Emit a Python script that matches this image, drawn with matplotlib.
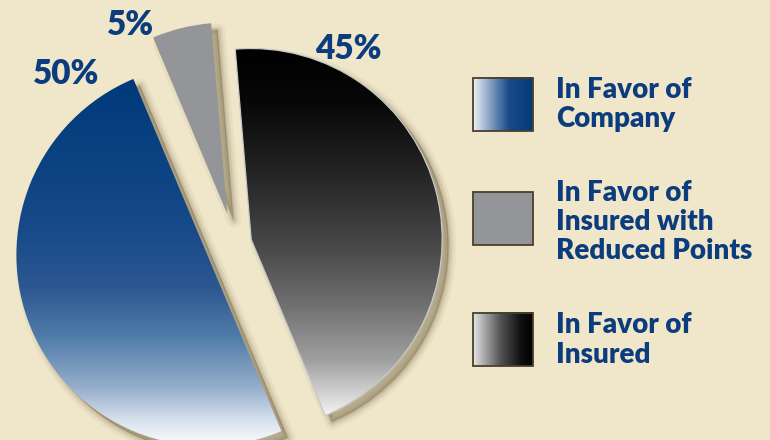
import numpy as np
import matplotlib.pyplot as plt
from matplotlib.colors import LinearSegmentedColormap
from matplotlib.patches import PathPatch, Rectangle
from matplotlib.transforms import offset_copy

# data
labels = ["In Favor of\nCompany",
          "In Favor of\nInsured with\nReduced Points",
          "In Favor of\nInsured"]
shares = [50, 5, 45]
pct_labels = ["50%", "5%", "45%"]

# look
bg = "#f0e6c9"
navy = "#0b3d7e"
shadow = "#4e3f1e"
font = "Lato"
weight = "heavy"

blue_cmap = LinearSegmentedColormap.from_list("blue", [
    (0.00, "#ffffff"), (0.07, "#d5e0ec"), (0.16, "#94adcb"), (0.30, "#4f7aa9"),
    (0.43, "#2c5892"), (0.57, "#1a4b8a"), (0.75, "#0c4383"), (1.00, "#003a7a")])
black_cmap = LinearSegmentedColormap.from_list("black", [
    (0.00, "#f4f4f4"), (0.05, "#d8d8d8"), (0.15, "#a0a0a0"), (0.30, "#707070"),
    (0.45, "#4a4a4a"), (0.65, "#262626"), (0.85, "#080808"), (1.00, "#000000")])
gray = "#939598"
fills = [blue_cmap, gray, black_cmap]

fig = plt.figure(figsize=(7.7, 4.4), dpi=100, facecolor=bg)
ax = fig.add_axes([0, 0, 1, 1])
ax.set_facecolor(bg)

wedges, _ = ax.pie(shares, startangle=292.8, counterclock=False,
                   explode=[0.154, 0.162, 0.09], radius=1.0,
                   wedgeprops=dict(linewidth=0))

grad = np.linspace(0, 1, 256).reshape(-1, 1)
for w, fill in zip(wedges, fills):
    path = w.get_path()
    # soft drop shadow, down and to the right
    for off, lw, a in [(7, 10, 0.05), (7, 6, 0.08), (7, 3, 0.10), (6, 0.5, 0.14)]:
        tr = offset_copy(ax.transData, fig=fig, x=off, y=-off, units="dots")
        ax.add_patch(PathPatch(path, transform=tr, facecolor=shadow, edgecolor=shadow,
                               lw=lw, alpha=a, zorder=1, joinstyle="round"))
    w.set_zorder(3)
    if isinstance(fill, str):
        w.set_facecolor(fill)
    else:
        w.set_facecolor("none")
        ext = path.get_extents()
        im = ax.imshow(grad, cmap=fill, origin="lower", aspect="auto",
                       extent=[ext.x0, ext.x1, ext.y0, ext.y1], zorder=2)
        im.set_clip_path(w)

wedges[2].set_edgecolor("#c9c9c9")
wedges[2].set_linewidth(0.9)

# percent labels
pct_pos = [(0.086, 0.832), (0.169, 0.943), (0.452, 0.889)]
for txt, (x, y) in zip(pct_labels, pct_pos):
    ax.text(x, y, txt, transform=ax.transAxes, ha="center", va="center",
            fontsize=24, fontweight=weight, color=navy, family=font, zorder=5)

# legend
box_y = [0.7023, 0.4432, 0.1682]
text_y = [0.7625, 0.4955, 0.2273]
swatch_maps = [
    LinearSegmentedColormap.from_list("sb", [(0, "#eef2f7"), (0.3, "#7f9cc0"), (0.6, "#1a4a88"), (1, "#003a7a")]),
    None,
    LinearSegmentedColormap.from_list("sk", [(0, "#e6e6e6"), (0.45, "#555555"), (0.8, "#101010"), (1, "#000000")]),
]
hgrad = np.linspace(0, 1, 256).reshape(1, -1)
bx, bw, bh = 0.6143, 0.0779, 0.1205
for lab, yb, yt, cm in zip(labels, box_y, text_y, swatch_maps):
    if cm is None:
        ax.add_patch(Rectangle((bx, yb), bw, bh, transform=ax.transAxes,
                               facecolor=gray, edgecolor="none", zorder=4))
    else:
        ax.imshow(hgrad, cmap=cm, aspect="auto", transform=ax.transAxes,
                  extent=[bx, bx + bw, yb, yb + bh], zorder=4)
    ax.add_patch(Rectangle((bx, yb), bw, bh, transform=ax.transAxes,
                           facecolor="none", edgecolor="#4a3f2a", lw=1.3, zorder=5))
    ax.text(0.7221, yt, lab, transform=ax.transAxes, ha="left", va="center",
            fontsize=20, fontweight=weight, color=navy, family=font,
            linespacing=1.15, zorder=5)

# map the pie so its centre sits where the original puts it
cx, cy, r = 234.5, 243.6, 191.0
ax.set_xlim(-cx / r, (770 - cx) / r)
ax.set_ylim((cy - 440) / r, cy / r)
ax.set_aspect("auto")
ax.axis("off")

fig.savefig("out.png", dpi=100, facecolor=bg)
